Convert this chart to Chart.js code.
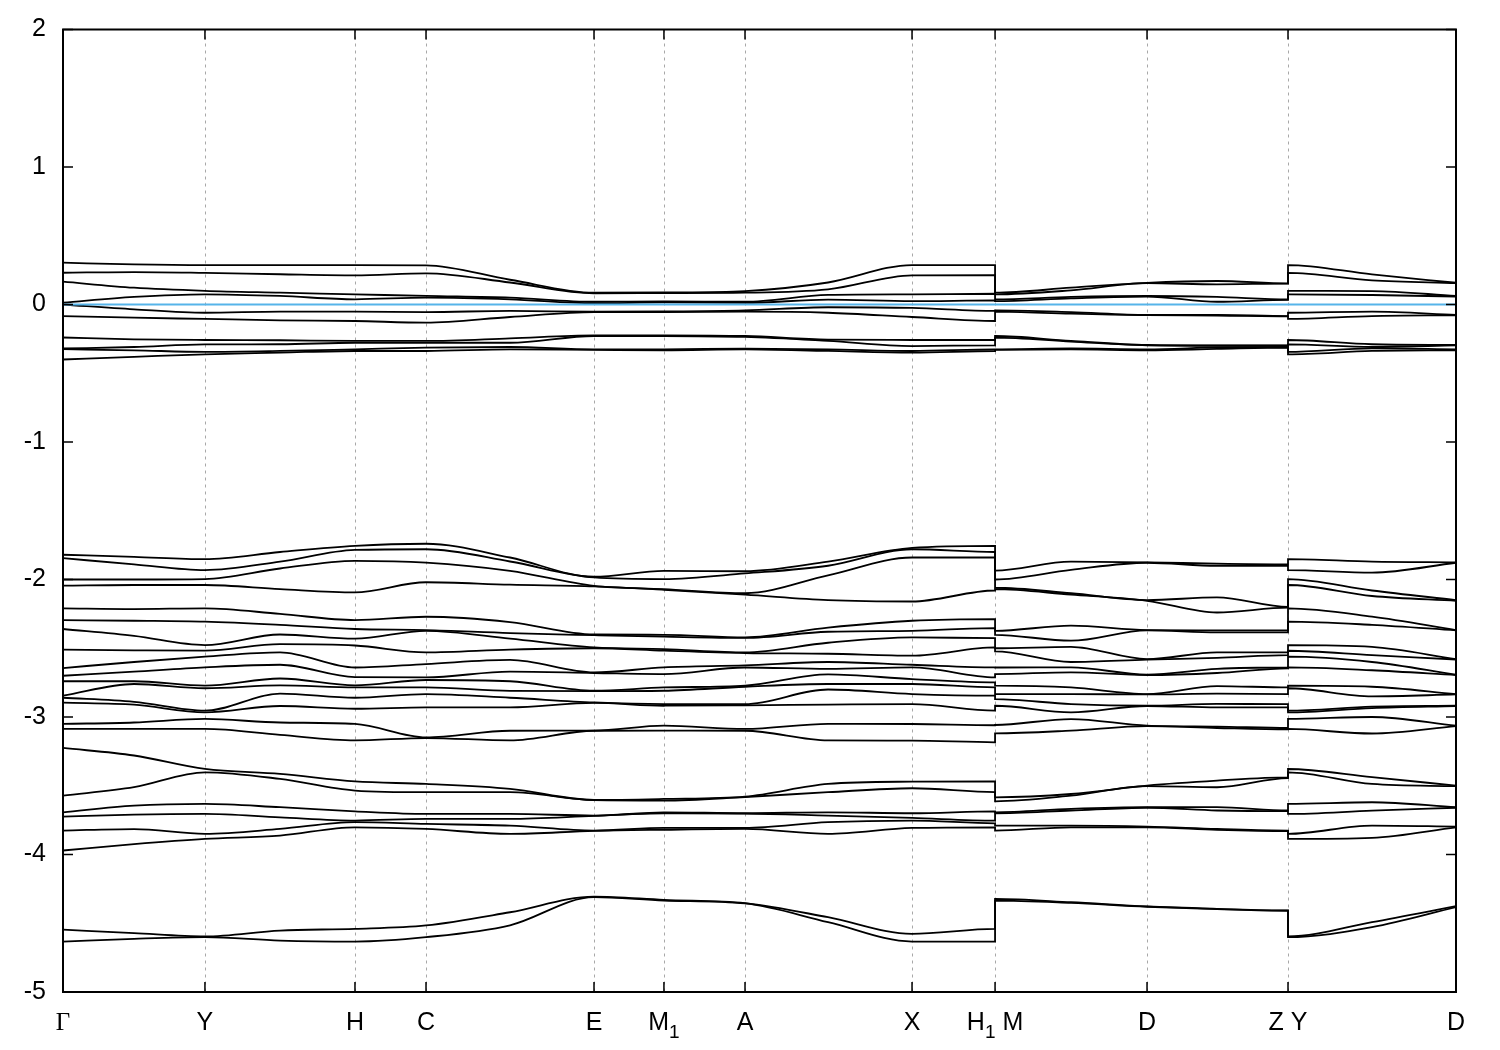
<!DOCTYPE html>
<html>
<head>
<meta charset="utf-8">
<title>Band structure</title>
<script src="https://cdn.jsdelivr.net/npm/chart.js@4.4.1/dist/chart.umd.min.js"></script>
<style>
  html, body { margin: 0; padding: 0; background: #fff; }
  #wrap { width: 1500px; height: 1050px; }
</style>
</head>
<body>
<div id="wrap"><canvas id="bands" width="1500" height="1050"></canvas></div>
<script>
// high symmetry points along the path ("_" puts the next character as a subscript)
var kLabels = ['Γ', 'Y', 'H', 'C', 'E', 'M_1', 'A', 'X', 'H_1 M', 'D', 'Z Y', 'D'];
var kTicks = [0, 0.1019, 0.2096, 0.2606, 0.3812, 0.4314, 0.4896, 0.6095, 0.6691, 0.7782, 0.8794, 1.0];

// k positions of the sampled points (H1|M and Z|Y are jumps, so they appear twice)
var kPath = [0, 0.0510, 0.1019, 0.1558, 0.2096, 0.2606, 0.3209, 0.3812, 0.4314, 0.4896, 0.5492,
             0.6095, 0.6691, 0.6691, 0.7236, 0.7782, 0.8284, 0.8794, 0.8794, 0.9397, 1.0];

// energies (eV), one row per k sample, bands sorted high to low
var nearFermi = [
  [0.304, 0.231, 0.166, 0.013, 0.000, -0.084],
  [0.292, 0.236, 0.122, 0.055, -0.035, -0.096],
  [0.287, 0.230, 0.099, 0.074, -0.060, -0.105],
  [0.287, 0.220, 0.086, 0.062, -0.052, -0.115],
  [0.287, 0.212, 0.074, 0.038, -0.052, -0.120],
  [0.285, 0.227, 0.062, 0.050, -0.055, -0.132],
  [0.180, 0.160, 0.050, 0.038, -0.047, -0.091],
  [0.086, 0.082, 0.020, 0.010, -0.052, -0.055],
  [0.088, 0.083, 0.022, 0.015, -0.050, -0.055],
  [0.098, 0.086, 0.020, 0.012, -0.042, -0.052],
  [0.160, 0.110, 0.070, 0.035, -0.020, -0.060],
  [0.287, 0.212, 0.074, 0.024, -0.025, -0.091],
  [0.287, 0.214, 0.078, 0.030, -0.047, -0.120],
  [0.086, 0.074, 0.038, 0.025, -0.042, -0.052],
  [0.122, 0.103, 0.055, 0.045, -0.055, -0.067],
  [0.158, 0.155, 0.062, 0.058, -0.076, -0.078],
  [0.171, 0.147, 0.055, 0.020, -0.076, -0.080],
  [0.154, 0.152, 0.038, 0.034, -0.084, -0.086],
  [0.287, 0.230, 0.099, 0.074, -0.060, -0.105],
  [0.219, 0.176, 0.098, 0.069, -0.052, -0.084],
  [0.158, 0.155, 0.062, 0.058, -0.076, -0.078]
];

var shallow = [
  [-0.240, -0.320, -0.325, -0.400],
  [-0.253, -0.309, -0.333, -0.381],
  [-0.258, -0.290, -0.345, -0.362],
  [-0.260, -0.289, -0.338, -0.350],
  [-0.265, -0.278, -0.326, -0.338],
  [-0.265, -0.278, -0.314, -0.338],
  [-0.246, -0.278, -0.309, -0.326],
  [-0.224, -0.229, -0.326, -0.330],
  [-0.224, -0.229, -0.326, -0.333],
  [-0.229, -0.236, -0.321, -0.326],
  [-0.256, -0.265, -0.326, -0.338],
  [-0.258, -0.302, -0.338, -0.350],
  [-0.258, -0.297, -0.326, -0.338],
  [-0.229, -0.241, -0.326, -0.330],
  [-0.265, -0.270, -0.319, -0.326],
  [-0.294, -0.297, -0.326, -0.333],
  [-0.297, -0.300, -0.312, -0.323],
  [-0.297, -0.300, -0.309, -0.314],
  [-0.258, -0.290, -0.345, -0.362],
  [-0.289, -0.309, -0.319, -0.338],
  [-0.294, -0.297, -0.326, -0.333]
];

var upperD = [
  [-1.820, -1.845, -2.000, -2.045],
  [-1.835, -1.890, -2.000, -2.040],
  [-1.852, -1.932, -1.997, -2.040],
  [-1.800, -1.870, -1.920, -2.070],
  [-1.755, -1.785, -1.864, -2.094],
  [-1.740, -1.780, -1.877, -2.020],
  [-1.840, -1.869, -1.937, -2.038],
  [-1.980, -1.985, -2.046, -2.050],
  [-1.937, -1.997, -2.070, -2.075],
  [-1.940, -1.956, -2.100, -2.110],
  [-1.870, -1.900, -1.970, -2.150],
  [-1.770, -1.780, -1.840, -2.160],
  [-1.755, -1.800, -1.840, -2.080],
  [-1.935, -2.000, -2.060, -2.070],
  [-1.870, -1.930, -2.100, -2.110],
  [-1.875, -1.878, -2.150, -2.155],
  [-1.885, -1.900, -2.130, -2.240],
  [-1.890, -1.900, -2.200, -2.205],
  [-1.852, -1.932, -1.997, -2.040],
  [-1.870, -1.950, -2.080, -2.120],
  [-1.875, -1.878, -2.150, -2.155]
];

var midD = [
  [-2.210, -2.295, -2.360, -2.510, -2.644, -2.700, -2.740, -2.845, -2.860, -2.895, -3.050, -3.087],
  [-2.215, -2.300, -2.410, -2.515, -2.600, -2.670, -2.740, -2.760, -2.890, -2.910, -3.040, -3.087],
  [-2.210, -2.307, -2.477, -2.518, -2.561, -2.639, -2.772, -2.791, -2.954, -2.966, -3.014, -3.087],
  [-2.250, -2.330, -2.400, -2.470, -2.530, -2.620, -2.720, -2.770, -2.830, -2.920, -3.040, -3.130],
  [-2.295, -2.360, -2.430, -2.480, -2.640, -2.710, -2.770, -2.785, -2.860, -2.940, -3.050, -3.170],
  [-2.271, -2.368, -2.373, -2.530, -2.615, -2.712, -2.731, -2.785, -2.833, -2.930, -3.148, -3.153],
  [-2.310, -2.390, -2.430, -2.510, -2.585, -2.670, -2.740, -2.810, -2.860, -2.930, -3.100, -3.170],
  [-2.400, -2.405, -2.494, -2.500, -2.676, -2.680, -2.809, -2.812, -2.894, -2.897, -3.099, -3.100],
  [-2.402, -2.416, -2.506, -2.518, -2.639, -2.688, -2.785, -2.809, -2.906, -2.918, -3.063, -3.099],
  [-2.421, -2.425, -2.530, -2.535, -2.625, -2.640, -2.772, -2.780, -2.906, -2.915, -3.087, -3.100],
  [-2.350, -2.380, -2.460, -2.540, -2.600, -2.650, -2.690, -2.760, -2.800, -2.910, -3.050, -3.170],
  [-2.300, -2.373, -2.421, -2.554, -2.620, -2.639, -2.724, -2.760, -2.833, -2.906, -3.051, -3.172],
  [-2.288, -2.353, -2.426, -2.494, -2.639, -2.712, -2.748, -2.785, -2.845, -2.954, -3.060, -3.184],
  [-2.373, -2.402, -2.500, -2.523, -2.640, -2.688, -2.772, -2.833, -2.870, -2.918, -3.058, -3.119],
  [-2.336, -2.445, -2.490, -2.600, -2.639, -2.675, -2.785, -2.833, -2.906, -2.966, -3.015, -3.099],
  [-2.368, -2.370, -2.579, -2.582, -2.692, -2.695, -2.833, -2.836, -2.918, -2.920, -3.063, -3.066],
  [-2.370, -2.385, -2.530, -2.570, -2.650, -2.680, -2.775, -2.830, -2.905, -2.930, -3.070, -3.080],
  [-2.370, -2.385, -2.530, -2.550, -2.640, -2.646, -2.785, -2.833, -2.906, -2.930, -3.080, -3.090],
  [-2.210, -2.307, -2.477, -2.518, -2.561, -2.639, -2.772, -2.791, -2.954, -2.966, -3.014, -3.087],
  [-2.270, -2.330, -2.490, -2.550, -2.600, -2.660, -2.780, -2.850, -2.925, -2.935, -3.000, -3.120],
  [-2.368, -2.370, -2.579, -2.582, -2.692, -2.695, -2.833, -2.836, -2.918, -2.920, -3.063, -3.066]
];

var lowerD = [
  [-3.225, -3.572, -3.693, -3.724, -3.826, -3.971],
  [-3.280, -3.510, -3.645, -3.710, -3.815, -3.925],
  [-3.378, -3.402, -3.632, -3.705, -3.850, -3.887],
  [-3.414, -3.450, -3.656, -3.730, -3.814, -3.862],
  [-3.468, -3.535, -3.686, -3.753, -3.765, -3.802],
  [-3.487, -3.547, -3.705, -3.741, -3.778, -3.814],
  [-3.523, -3.547, -3.705, -3.741, -3.790, -3.850],
  [-3.603, -3.605, -3.717, -3.719, -3.826, -3.828],
  [-3.596, -3.608, -3.693, -3.700, -3.807, -3.820],
  [-3.579, -3.582, -3.700, -3.702, -3.807, -3.814],
  [-3.487, -3.547, -3.693, -3.717, -3.765, -3.850],
  [-3.470, -3.518, -3.700, -3.734, -3.753, -3.807],
  [-3.468, -3.547, -3.686, -3.753, -3.773, -3.802],
  [-3.584, -3.613, -3.693, -3.700, -3.790, -3.826],
  [-3.560, -3.572, -3.668, -3.680, -3.790, -3.802],
  [-3.499, -3.503, -3.656, -3.660, -3.797, -3.802],
  [-3.463, -3.511, -3.656, -3.680, -3.814, -3.821],
  [-3.439, -3.444, -3.680, -3.685, -3.826, -3.830],
  [-3.378, -3.402, -3.632, -3.705, -3.850, -3.887],
  [-3.438, -3.487, -3.620, -3.681, -3.790, -3.879],
  [-3.499, -3.503, -3.656, -3.660, -3.797, -3.802]
];

var deep = [
  [-4.546, -4.633],
  [-4.572, -4.613],
  [-4.596, -4.601],
  [-4.553, -4.626],
  [-4.541, -4.633],
  [-4.516, -4.601],
  [-4.420, -4.515],
  [-4.306, -4.310],
  [-4.330, -4.335],
  [-4.354, -4.356],
  [-4.456, -4.492],
  [-4.577, -4.633],
  [-4.541, -4.633],
  [-4.323, -4.335],
  [-4.347, -4.352],
  [-4.378, -4.380],
  [-4.395, -4.397],
  [-4.407, -4.409],
  [-4.596, -4.601],
  [-4.492, -4.529],
  [-4.376, -4.383]
];

var fermiLevel = 0;
var yTicks = [-5, -4, -3, -2, -1, 0, 1, 2];

var fontFamily = "'Liberation Sans Narrow', 'Liberation Sans', Arial, sans-serif";

// turn the rows of one group into one line per band
function bandsFrom(rows) {
  var out = [];
  for (var b = 0; b < rows[0].length; b++) {
    var pts = [];
    for (var s = 0; s < kPath.length; s++) {
      pts.push({ x: kPath[s], y: rows[s][b] });
    }
    out.push(pts);
  }
  return out;
}

var datasets = [{
  data: [{ x: kPath[0], y: fermiLevel }, { x: kPath[kPath.length - 1], y: fermiLevel }],
  borderColor: '#56b4e9',
  borderWidth: 2,
  pointRadius: 0
}];

[nearFermi, shallow, upperD, midD, lowerD, deep].forEach(function (group) {
  bandsFrom(group).forEach(function (pts) {
    datasets.push({
      data: pts,
      borderColor: '#000',
      borderWidth: 1.8,
      pointRadius: 0,
      cubicInterpolationMode: 'monotone'
    });
  });
});

// split "H_1 M" into plain and subscript pieces
function labelParts(txt) {
  var parts = [];
  for (var i = 0; i < txt.length; i++) {
    if (txt[i] === '_' && i + 1 < txt.length) {
      parts.push({ t: txt[i + 1], sub: true });
      i++;
    } else {
      parts.push({ t: txt[i], sub: false });
    }
  }
  return parts;
}

// frame, inward tics, dashed lines at the symmetry points and the k labels (gnuplot look)
var framePlugin = {
  id: 'frame',
  beforeDatasetsDraw: function (chart) {
    var ctx = chart.ctx, a = chart.chartArea, xs = chart.scales.x;
    ctx.save();
    ctx.strokeStyle = '#a8a8a8';
    ctx.lineWidth = 1;
    ctx.setLineDash([3, 4]);
    for (var i = 1; i < kTicks.length - 1; i++) {
      var px = Math.round(xs.getPixelForValue(kTicks[i])) + 0.5;
      ctx.beginPath();
      ctx.moveTo(px, a.top);
      ctx.lineTo(px, a.bottom);
      ctx.stroke();
    }
    ctx.restore();
  },
  afterDatasetsDraw: function (chart) {
    var ctx = chart.ctx, a = chart.chartArea, xs = chart.scales.x, ys = chart.scales.y;
    var len = 10;
    ctx.save();
    ctx.strokeStyle = '#000';
    ctx.lineWidth = 1.5;
    ctx.beginPath();
    kTicks.forEach(function (k) {
      var px = xs.getPixelForValue(k);
      ctx.moveTo(px, a.bottom); ctx.lineTo(px, a.bottom - len);
      ctx.moveTo(px, a.top); ctx.lineTo(px, a.top + len);
    });
    yTicks.forEach(function (v) {
      var py = ys.getPixelForValue(v);
      ctx.moveTo(a.left, py); ctx.lineTo(a.left + len, py);
      ctx.moveTo(a.right, py); ctx.lineTo(a.right - len, py);
    });
    ctx.stroke();
    ctx.lineWidth = 2;
    ctx.strokeRect(a.left, a.top, a.right - a.left, a.bottom - a.top);

    // k-point labels under the axis
    var mainFont = '25px ' + fontFamily, subFont = '19px ' + fontFamily;
    var greekFont = '25px "Liberation Serif", serif';
    var baseY = a.bottom + 38;
    ctx.fillStyle = '#000';
    ctx.textBaseline = 'alphabetic';
    ctx.textAlign = 'left';
    kLabels.forEach(function (lab, i) {
      var parts = labelParts(lab);
      var w = 0;
      parts.forEach(function (p) {
        p.font = p.sub ? subFont : (p.t === 'Γ' ? greekFont : mainFont);
        ctx.font = p.font;
        p.w = ctx.measureText(p.t).width;
        w += p.w;
      });
      var x = xs.getPixelForValue(kTicks[i]) - w / 2;
      parts.forEach(function (p) {
        ctx.font = p.font;
        ctx.fillText(p.t, x, p.sub ? baseY + 8 : baseY);
        x += p.w;
      });
    });
    ctx.restore();
  }
};

Chart.defaults.font.family = fontFamily;
Chart.defaults.font.size = 25;
Chart.defaults.color = '#000';

new Chart(document.getElementById('bands'), {
  type: 'line',
  data: { datasets: datasets },
  options: {
    responsive: false,
    animation: false,
    events: [],
    layout: { padding: { top: 29, right: 44, left: 0, bottom: 0 } },
    plugins: { legend: { display: false }, tooltip: { enabled: false } },
    scales: {
      x: {
        type: 'linear',
        min: 0,
        max: 1,
        grid: { display: false, drawTicks: false },
        border: { display: false },
        afterBuildTicks: function (scale) {
          scale.ticks = kTicks.map(function (k) { return { value: k }; });
        },
        afterFit: function (scale) { scale.height = 58; },
        ticks: { display: false }
      },
      y: {
        min: -5,
        max: 2,
        grid: { display: false, drawTicks: false },
        border: { display: false },
        afterFit: function (scale) { scale.width = 63; },
        ticks: { stepSize: 1, padding: 17, font: { size: 25, lineHeight: 1 } }
      }
    }
  },
  plugins: [framePlugin]
});
</script>
</body>
</html>
